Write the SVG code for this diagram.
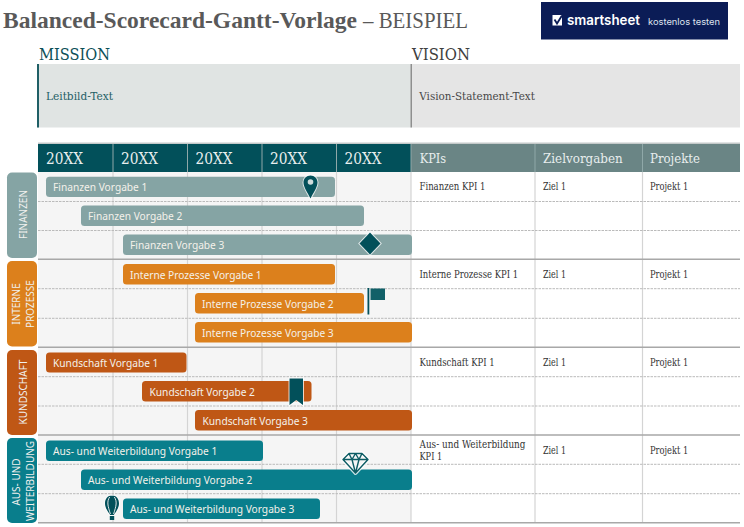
<svg xmlns="http://www.w3.org/2000/svg" width="744" height="527" viewBox="0 0 744 527">
<style>
.s{font-family:"DejaVu Serif","Liberation Serif",serif}
.o{font-family:"Noto Sans","Open Sans",sans-serif}
.t{font-family:"Liberation Serif",serif;font-size:22.5px;fill:#595959}
.yr{font-size:16px;fill:#e8eeee}
.hd{font-size:13px;fill:#e8eeee}
.c{font-size:10.2px;fill:#333}
.b{font-size:10.2px;fill:#f4f1ea}
.sd{font-size:10px;fill:#f0f0ee;text-anchor:middle}
.dash{stroke:#bbb;stroke-width:1;stroke-dasharray:2.5 1;fill:none}
.thick{stroke:#a8a8a8;stroke-width:1.5;fill:none}
.v{stroke:#d4d4d4;stroke-width:1.2;fill:none}
.halo{stroke:#fff;stroke-opacity:.75;stroke-width:2;paint-order:stroke}
</style>
<rect width="744" height="527" fill="#fff"/>
<g id="title">
<text class="t" x="3" y="28" font-weight="700" textLength="354" lengthAdjust="spacingAndGlyphs">Balanced-Scorecard-Gantt-Vorlage</text>
<text class="t" x="363" y="28" textLength="105" lengthAdjust="spacingAndGlyphs">– BEISPIEL</text>
</g>
<g id="logo">
<rect x="541" y="2" width="187" height="37.500" fill="#0b1c56"/>
<rect x="552.500" y="15" width="9.500" height="10.500" fill="#fff"/>
<path d="M554.500 19.500l2.500 4 5-8" fill="none" stroke="#0b1c56" stroke-width="1.800"/>
<text x="567" y="24.500" font-family="Inter,sans-serif" font-size="14.500" font-weight="600" fill="#fff" textLength="73" lengthAdjust="spacingAndGlyphs">smartsheet</text>
<text x="648" y="24.500" font-family="Inter,sans-serif" font-size="9" fill="#dfe3ee" textLength="72" lengthAdjust="spacingAndGlyphs">kostenlos testen</text>
</g>
<g id="mission">
<text class="s" x="39" y="60" font-size="17.500" fill="#0c5058" textLength="71" lengthAdjust="spacingAndGlyphs">MISSION</text>
<rect x="37" y="64" width="374" height="63.500" fill="#e0e4e3"/>
<rect x="37" y="64" width="2" height="63.500" fill="#1f5f66"/>
<text class="s" x="46" y="100" font-size="11" fill="#1f5f66" textLength="67" lengthAdjust="spacingAndGlyphs">Leitbild-Text</text>
</g>
<g id="vision">
<text class="s" x="412" y="60" font-size="17.500" fill="#404040" textLength="58" lengthAdjust="spacingAndGlyphs">VISION</text>
<rect x="411" y="64" width="329" height="63.500" fill="#e5e5e5"/>
<rect x="410.500" y="64" width="1.500" height="63.500" fill="#8f8f8f"/>
<text class="s" x="419.300" y="100" font-size="11" fill="#484848" textLength="115.500" lengthAdjust="spacingAndGlyphs">Vision-Statement-Text</text>
</g>
<g id="grid">
<rect x="38" y="172" width="373" height="351" fill="#f5f5f5"/>
<rect x="411" y="172" width="329" height="351" fill="#fff"/>
<path class="v" d="M113 172V523M187.500 172V523M262 172V523M336.500 172V523M411 172V523M535 172V523M642.500 172V523"/>
<path class="dash" d="M38 201.500H740M38 230.500H740M38 288.700H740M38 318.300H740M38 376.700H740M38 406H740M38 464.300H740M38 493.700H740"/>
<path class="thick" d="M38 259.300H740M38 347.300H740M38 435H740M38 522.800H740"/>
</g>
<g id="header">
<rect x="38" y="142.500" width="702" height="1.500" fill="#c4c9c9"/>
<rect x="38" y="144" width="373" height="28" fill="#02505a"/>
<rect x="411" y="144" width="329" height="28" fill="#6a8585"/>
<path d="M113 144V172M187.500 144V172M262 144V172M336.500 144V172M411 144V172M535 144V172M642.500 144V172" stroke="#8fa8a8" stroke-width="1" fill="none"/>
<text class="s yr" x="46" y="163.500" textLength="37" lengthAdjust="spacingAndGlyphs">20XX</text>
<text class="s yr" x="121" y="163.500" textLength="37" lengthAdjust="spacingAndGlyphs">20XX</text>
<text class="s yr" x="195.500" y="163.500" textLength="37" lengthAdjust="spacingAndGlyphs">20XX</text>
<text class="s yr" x="270" y="163.500" textLength="37" lengthAdjust="spacingAndGlyphs">20XX</text>
<text class="s yr" x="344.500" y="163.500" textLength="37" lengthAdjust="spacingAndGlyphs">20XX</text>
<text class="s hd" x="419.700" y="163" textLength="26.500" lengthAdjust="spacingAndGlyphs">KPIs</text>
<text class="s hd" x="543" y="163" textLength="79.700" lengthAdjust="spacingAndGlyphs">Zielvorgaben</text>
<text class="s hd" x="650" y="163" textLength="50" lengthAdjust="spacingAndGlyphs">Projekte</text>
</g>
<g id="finanzen">
<rect x="7" y="172.500" width="30" height="85.500" rx="5" fill="#85a4a4"/>
<text class="o sd" transform="translate(27 214.500) rotate(-90)">FINANZEN</text>
<rect x="46" y="176.700" width="289" height="20.300" rx="3.500" fill="#85a4a4"/>
<text class="o b" x="53" y="191">Finanzen Vorgabe 1</text>
<rect x="81" y="205.500" width="283" height="20.500" rx="3.500" fill="#85a4a4"/>
<text class="o b" x="88" y="220">Finanzen Vorgabe 2</text>
<rect x="123" y="234.500" width="289" height="20.500" rx="3.500" fill="#85a4a4"/>
<text class="o b" x="130" y="249">Finanzen Vorgabe 3</text>
</g>
<g id="prozesse">
<rect x="7" y="261" width="30" height="85.500" rx="5" fill="#dc801c"/>
<text class="o sd" transform="translate(20 304) rotate(-90)">INTERNE</text>
<text class="o sd" transform="translate(34 304) rotate(-90)">PROZESSE</text>
<rect x="123" y="264" width="212" height="20.500" rx="3.500" fill="#dc801c"/>
<text class="o b" x="130" y="278.500">Interne Prozesse Vorgabe 1</text>
<rect x="195" y="293" width="169" height="20.500" rx="3.500" fill="#dc801c"/>
<text class="o b" x="202" y="307.500">Interne Prozesse Vorgabe 2</text>
<rect x="195" y="322" width="217" height="20.500" rx="3.500" fill="#dc801c"/>
<text class="o b" x="202" y="336.500">Interne Prozesse Vorgabe 3</text>
</g>
<g id="kundschaft">
<rect x="7" y="350" width="30" height="85" rx="5" fill="#bf5715"/>
<text class="o sd" transform="translate(27 392) rotate(-90)">KUNDSCHAFT</text>
<rect x="46" y="352.500" width="140.500" height="20" rx="3.500" fill="#bf5715"/>
<text class="o b" x="53" y="366.500">Kundschaft Vorgabe 1</text>
<rect x="142" y="381" width="169.500" height="20.500" rx="3.500" fill="#bf5715"/>
<text class="o b" x="149.500" y="395.500">Kundschaft Vorgabe 2</text>
<rect x="195" y="410" width="217" height="20.500" rx="3.500" fill="#bf5715"/>
<text class="o b" x="202.500" y="424.500">Kundschaft Vorgabe 3</text>
</g>
<g id="weiterbildung">
<rect x="7" y="438" width="30" height="85" rx="5" fill="#097e8c"/>
<text class="o sd" transform="translate(20 482) rotate(-90)">AUS- UND</text>
<text class="o sd" transform="translate(34 481) rotate(-90)">WEITERBILDUNG</text>
<rect x="46" y="440.500" width="217" height="20.500" rx="3.500" fill="#097e8c"/>
<text class="o b" x="53" y="455">Aus- und Weiterbildung Vorgabe 1</text>
<rect x="81" y="469.500" width="331" height="20.500" rx="3.500" fill="#097e8c"/>
<text class="o b" x="88" y="484">Aus- und Weiterbildung Vorgabe 2</text>
<rect x="123" y="498.500" width="197" height="20.500" rx="3.500" fill="#097e8c"/>
<text class="o b" x="130" y="513">Aus- und Weiterbildung Vorgabe 3</text>
</g>
<g id="markers">
<path class="halo" d="M310.500 175.500c-4 0-7 3-7 7 0 4.500 4 10 7 16 3-6 7-11.500 7-16 0-4-3-7-7-7z" fill="#02505a"/>
<circle cx="310.500" cy="182" r="2.800" fill="#cfdcdc"/>
<path class="halo" d="M370 232.500l10.500 11-10.500 11-10.500-11z" fill="#02505a"/>
<rect x="367.500" y="288" width="1.800" height="26.500" fill="#02505a"/>
<path d="M370.500 288.500h14.500v11.500h-14.500z" fill="#116068"/>
<path class="halo" d="M289.500 378.500h13.500v26.500l-6.750-5-6.750 5z" fill="#02505a"/>
<path d="M349 453.500h13l6 6-12.500 13.500-12.500-13.500z" fill="#f5f5f5" stroke="#fff" stroke-width="4" stroke-opacity=".8" stroke-linejoin="round"/>
<path d="M349 453.500h13l6 6-12.500 13.500-12.500-13.500zM343 459.500h25M349 453.500l3 6 3.500 13.500 3.500-13.500 3-6M352 459.500l3.500-6 3.500 6" fill="none" stroke="#0d5c64" stroke-width="1.400" stroke-linejoin="round"/>
<path class="halo" d="M112 495.500c-4.500 0-7 3.500-7 8 0 4.500 3.500 9 5.200 11.500h3.600c1.700-2.500 5.200-7 5.200-11.500 0-4.500-2.500-8-7-8z" fill="#02505a"/>
<rect x="109.800" y="516" width="4.400" height="4" fill="#02505a"/>
<path d="M109.700 497c-1.500 2-2 4.500-1.800 7 .2 3 1.300 6 2.500 10M114.300 497c1.500 2 2 4.500 1.800 7-.2 3-1.300 6-2.500 10" fill="none" stroke="#f5f5f5" stroke-width=".9"/>
</g>
<g id="kennzahlen">
<text class="s c" x="419.500" y="190" textLength="66" lengthAdjust="spacingAndGlyphs">Finanzen KPI 1</text>
<text class="s c" x="543" y="190" textLength="23" lengthAdjust="spacingAndGlyphs">Ziel 1</text>
<text class="s c" x="650" y="190" textLength="38.300" lengthAdjust="spacingAndGlyphs">Projekt 1</text>
<text class="s c" x="419.500" y="278" textLength="98.700" lengthAdjust="spacingAndGlyphs">Interne Prozesse KPI 1</text>
<text class="s c" x="543" y="278" textLength="23" lengthAdjust="spacingAndGlyphs">Ziel 1</text>
<text class="s c" x="650" y="278" textLength="38.300" lengthAdjust="spacingAndGlyphs">Projekt 1</text>
<text class="s c" x="419.500" y="366" textLength="75.300" lengthAdjust="spacingAndGlyphs">Kundschaft KPI 1</text>
<text class="s c" x="543" y="366" textLength="23" lengthAdjust="spacingAndGlyphs">Ziel 1</text>
<text class="s c" x="650" y="366" textLength="38.300" lengthAdjust="spacingAndGlyphs">Projekt 1</text>
<text class="s c" x="419.500" y="447.500" textLength="106" lengthAdjust="spacingAndGlyphs">Aus- und Weiterbildung</text>
<text class="s c" x="419.500" y="460" textLength="22.700" lengthAdjust="spacingAndGlyphs">KPI 1</text>
<text class="s c" x="543" y="454" textLength="23" lengthAdjust="spacingAndGlyphs">Ziel 1</text>
<text class="s c" x="650" y="454" textLength="38.300" lengthAdjust="spacingAndGlyphs">Projekt 1</text>
</g>
</svg>
